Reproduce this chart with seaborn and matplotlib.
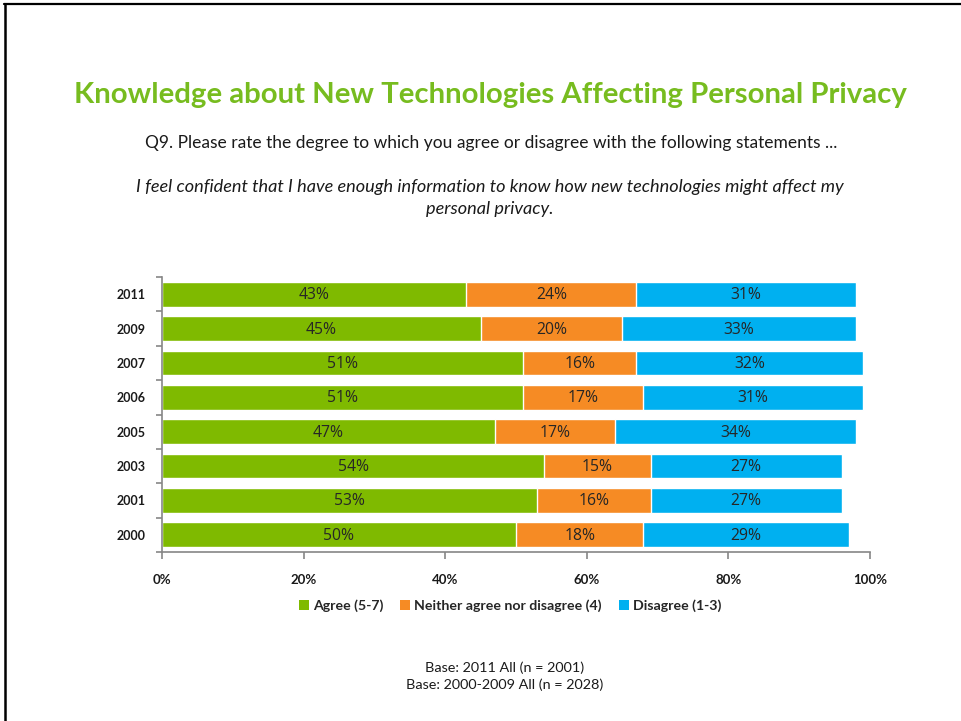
import matplotlib
matplotlib.use("Agg")
import matplotlib.pyplot as plt
from matplotlib.lines import Line2D
from matplotlib.patches import Patch
from matplotlib.ticker import FixedLocator
import pandas as pd
import seaborn as sns

years = ["2011", "2009", "2007", "2006", "2005", "2003", "2001", "2000"]
agree = [43, 45, 51, 51, 47, 54, 53, 50]
neither = [24, 20, 16, 17, 17, 15, 16, 18]
disagree = [31, 33, 32, 31, 34, 27, 27, 29]
series_names = ["Agree (5-7)", "Neither agree nor disagree (4)", "Disagree (1-3)"]
x_ticks = [0, 20, 40, 60, 80, 100]

GREEN = "#7FBA00"
ORANGE = "#F68B24"
BLUE = "#00B0F0"
TITLE_GREEN = "#77BC1F"
AXIS_GRAY = "#868686"

sns.set_theme(style="white")
plt.rcParams["font.family"] = ["Lato", "DejaVu Sans"]

df = pd.DataFrame({"year": years, "agree": agree, "neither": neither, "disagree": disagree})
df["cum_neither"] = df["agree"] + df["neither"]
df["cum_total"] = df["cum_neither"] + df["disagree"]

fig = plt.figure(figsize=(9.61, 7.21), dpi=100)
ax = fig.add_axes([162 / 961, 1 - 552 / 721, 708 / 961, 275 / 721])

# stacked bars: draw cumulative totals back to front
for col, colour in (("cum_total", BLUE), ("cum_neither", ORANGE), ("agree", GREEN)):
    sns.barplot(data=df, y="year", x=col, color=colour, width=0.72, ax=ax,
                orient="h", saturation=1, order=years)

# segment value labels
for i, row in df.iterrows():
    segments = [(0, row["agree"]), (row["agree"], row["neither"]),
                (row["cum_neither"], row["disagree"])]
    for start, width in segments:
        ax.text(start + width / 2, i + 0.03, f"{width}%", ha="center", va="center",
                fontsize=11.3, color="#262626", family=["Open Sans", "DejaVu Sans"])

ax.set_xlim(0, 100)
ax.set_ylim(len(years) - 0.5, -0.5)
ax.set_xlabel("")
ax.set_ylabel("")
ax.set_xticks(x_ticks)
ax.set_xticklabels([f"{t}%" for t in x_ticks], fontsize=9.5, fontweight="bold", color="#1a1a1a")
ax.set_yticks(range(len(years)))
ax.set_yticklabels(years, fontsize=9, fontweight="bold", color="#1a1a1a")
ax.yaxis.set_minor_locator(FixedLocator([i - 0.5 for i in range(len(years) + 1)]))

for side in ["top", "right"]:
    ax.spines[side].set_visible(False)
for side in ["left", "bottom"]:
    ax.spines[side].set_color(AXIS_GRAY)
    ax.spines[side].set_linewidth(1.2)

ax.tick_params(axis="x", which="major", bottom=True, length=5, width=1.2,
               color=AXIS_GRAY, pad=11)
ax.tick_params(axis="y", which="major", left=False, length=0, pad=12)
ax.tick_params(axis="y", which="minor", left=True, length=4, width=1.2, color=AXIS_GRAY)

# legend
handles = [Patch(facecolor=c, edgecolor="none") for c in (GREEN, ORANGE, BLUE)]
fig.legend(handles, series_names, loc="center", bbox_to_anchor=(510 / 961, 1 - 606 / 721),
           ncol=3, frameon=False, handlelength=0.7, handleheight=0.7,
           handletextpad=0.3, columnspacing=1.2,
           prop={"family": ["Lato", "DejaVu Sans"], "weight": "bold", "size": 10.2})

# titles and notes
fig.text(490 / 961, 1 - 95 / 721, "Knowledge about New Technologies Affecting Personal Privacy",
         ha="center", va="center", fontsize=21.2, fontweight="bold", color=TITLE_GREEN)
fig.text(491 / 961, 1 - 143 / 721,
         "Q9. Please rate the degree to which you agree or disagree with the following statements ...",
         ha="center", va="center", fontsize=12.5, color="#1a1a1a")
fig.text(490 / 961, 1 - 198 / 721,
         "I feel confident that I have enough information to know how new technologies might affect my\npersonal privacy.",
         ha="center", va="center", fontsize=13.1, style="italic", color="#1a1a1a",
         linespacing=1.4)
fig.text(505 / 961, 1 - 676 / 721, "Base: 2011 All (n = 2001)\nBase: 2000-2009 All (n = 2028)",
         ha="center", va="center", fontsize=10.4, color="#1a1a1a", linespacing=1.45)

# page frame lines along the top and left edges
fig.add_artist(Line2D([4 / 961, 1], [1 - 4 / 721, 1 - 4 / 721], color="black", lw=1.6,
                      transform=fig.transFigure))
fig.add_artist(Line2D([5 / 961, 5 / 961], [0, 1 - 4 / 721], color="black", lw=1.8,
                      transform=fig.transFigure))

fig.savefig("out.png", dpi=100, facecolor="white")
